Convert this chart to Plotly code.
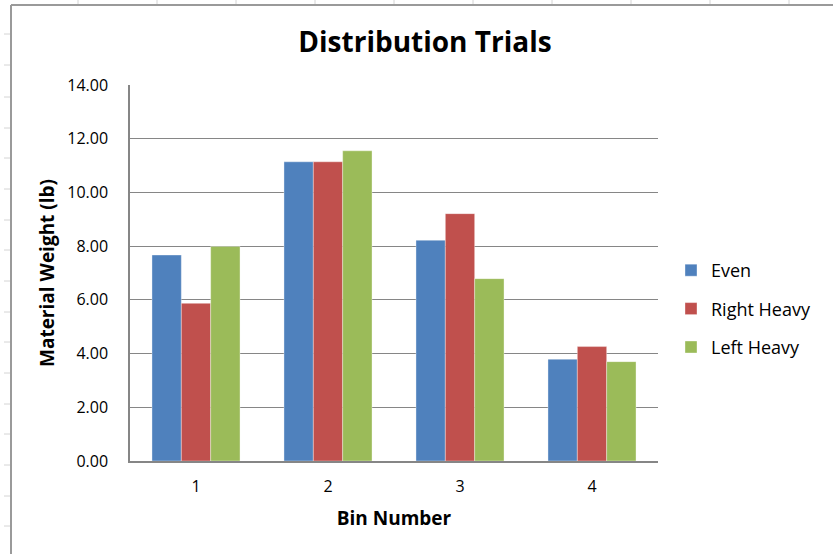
import plotly.graph_objects as go

# Data
bins = ["1", "2", "3", "4"]
even = [7.67, 11.14, 8.22, 3.79]
right_heavy = [5.87, 11.14, 9.21, 4.26]
left_heavy = [7.99, 11.55, 6.79, 3.70]

series_names = ["Even", "Right Heavy", "Left Heavy"]
series_colors = ["#4F81BD", "#C0504D", "#9BBB59"]

FONT = "Open Sans, Lato, sans-serif"
W, H = 833, 554
L, R, T, B = 130, 658, 85, 461  # plot-area pixel bounds

fig = go.Figure()
for name, vals, col in zip(series_names, [even, right_heavy, left_heavy], series_colors):
    fig.add_trace(go.Bar(
        x=bins, y=vals, name=name, legendgroup=name,
        marker=dict(color=col, line=dict(color="rgba(255,255,255,0.6)", width=0.6)),
    ))


def px_x(p):
    return (p - L) / (R - L)


def px_y(p):
    return (B - p) / (B - T)


shapes = [
    # chart-area frame (left and top edges)
    dict(type="line", xref="paper", yref="paper", x0=px_x(11), x1=px_x(11),
         y0=px_y(5), y1=px_y(560), line=dict(color="#9A9A9A", width=2)),
    dict(type="line", xref="paper", yref="paper", x0=px_x(11), x1=px_x(840),
         y0=px_y(5), y1=px_y(5), line=dict(color="#9A9A9A", width=2)),
]
# sheet grid stubs around the chart frame
for cx in range(78, 840, 79):
    shapes.append(dict(type="line", xref="paper", yref="paper", x0=px_x(cx), x1=px_x(cx),
                       y0=px_y(0), y1=px_y(4), line=dict(color="#D4D4D4", width=1)))
for ry in [34, 65, 97, 128, 158, 189, 220, 250, 281, 312, 342, 373, 404, 434, 465, 496, 526]:
    shapes.append(dict(type="line", xref="paper", yref="paper", x0=px_x(4), x1=px_x(10),
                       y0=px_y(ry), y1=px_y(ry), line=dict(color="#D4D4D4", width=1)))

fig.update_layout(
    width=W, height=H,
    margin=dict(l=L, r=W - R, t=T, b=H - B, pad=0),
    paper_bgcolor="white", plot_bgcolor="white",
    barmode="group", bargap=0.333, bargroupgap=0,
    font=dict(family=FONT, color="#000000", size=16),
    title=dict(text="<b>Distribution Trials</b>", x=425 / W, xanchor="center",
               y=1 - 42 / H, yanchor="middle", font=dict(size=28, family=FONT)),
    xaxis=dict(
        showline=True, linecolor="#868686", linewidth=1.5,
        ticks="", tickfont=dict(size=16), ticklabelstandoff=10,
        title=dict(text="<b>Bin Number</b>", font=dict(size=19), standoff=16),
    ),
    yaxis=dict(
        range=[0, 14], dtick=2, tickformat=".2f",
        showline=True, linecolor="#868686", linewidth=1.5,
        showgrid=True, gridcolor="#868686", gridwidth=1, zeroline=False,
        ticks="", tickfont=dict(size=16), ticklabelstandoff=17,
        title=dict(text="<b>Material Weight (lb)</b>", font=dict(size=19), standoff=8),
    ),
    legend=dict(
        x=px_x(671), y=px_y(309), xanchor="left", yanchor="middle",
        font=dict(size=18), tracegroupgap=12, itemwidth=30,
        bgcolor="rgba(0,0,0,0)",
    ),
    shapes=shapes,
)

fig.write_html("out.html")
